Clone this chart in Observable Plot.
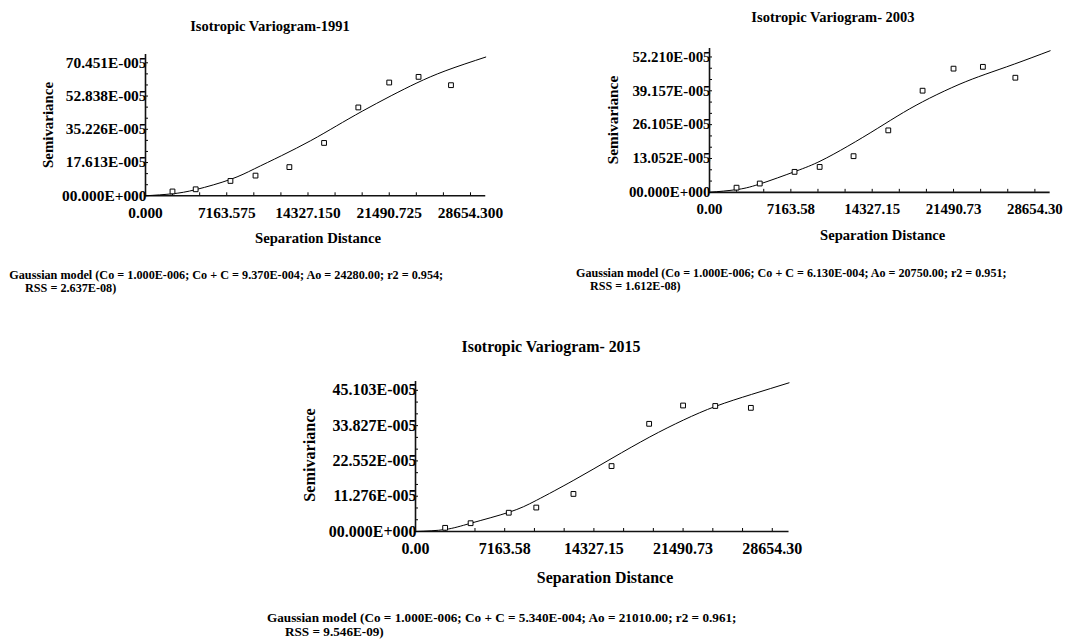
<!DOCTYPE html>
<html><head><meta charset="utf-8">
<script src="https://cdn.jsdelivr.net/npm/d3@7"></script>
<script src="https://cdn.jsdelivr.net/npm/@observablehq/plot@0.6"></script>
<style>
html,body{margin:0;padding:0;background:#fff;overflow:hidden;width:1075px;height:641px;}
#page{position:relative;width:1075px;height:641px;font-family:"Liberation Serif","Times New Roman",serif;font-weight:bold;color:#000;}
.t{position:absolute;white-space:nowrap;line-height:1;transform:translate(-50%,-50%);}
.v{position:absolute;white-space:nowrap;line-height:1;transform:translate(-50%,-50%) rotate(-90deg);}
.cap{position:absolute;white-space:nowrap;line-height:1;transform:translateY(-50%);}
.chart{position:absolute;}
</style></head><body><div id="page"></div>
<script>
// ---- data (semivariance in units of E-005) ----
const lag1991 = [2380, 4425, 7490, 9700, 12685, 15745, 18765, 21490, 24075, 26935];
const semi1991 = [2.3, 3.45, 7.87, 10.7, 15.2, 28.0, 46.8, 60.0, 63.0, 58.6];
const modelDist1991 = [0, 2356, 4486, 7467, 9596, 12009, 14564, 16835, 19106, 21661, 23932, 26487, 30000];
const modelSemi1991 = [0, 1.06, 3.35, 8.63, 14.27, 21.3, 29.2, 37.0, 44.8, 53.0, 59.8, 66.3, 73.5];

const lag2003 = [2380, 4425, 7490, 9700, 12685, 15745, 18765, 21490, 24075, 26935];
const semi2003 = [1.8, 3.4, 7.9, 9.8, 13.95, 23.9, 39.2, 47.7, 48.4, 44.2];
const modelDist2003 = [0, 2330, 4403, 7572, 9732, 12180, 14772, 17076, 19380, 21972, 24276, 26868, 30000];
const modelSemi2003 = [0, 1.02, 3.18, 8.1, 12.0, 17.8, 24.6, 30.8, 36.3, 41.6, 45.5, 49.5, 54.6];

const lag2015 = [2380, 4425, 7490, 9700, 12685, 15745, 18765, 21490, 24075, 26935];
const semi2015 = [1.17, 2.65, 6.0, 7.65, 12.0, 20.9, 34.4, 40.25, 40.1, 39.5];
const modelDist2015 = [0, 2388, 4464, 7527, 9733, 12718, 15781, 18817, 21517, 24112, 26993, 30000];
const modelSemi2015 = [0, 0.64, 2.67, 6.18, 10.0, 16.4, 23.4, 30.2, 35.6, 40.0, 43.8, 47.5];

// ---- tick values and labels ----
const xTickValues = [0, 7163.575, 14327.15, 21490.725, 28654.3];
const xTickLabels1991 = ["0.000", "7163.575", "14327.150", "21490.725", "28654.300"];
const xTickLabels2dp = ["0.00", "7163.58", "14327.15", "21490.73", "28654.30"];
const yTicks1991 = [0, 17.613, 35.226, 52.838, 70.451];
const yTickLabels1991 = ["00.000E+000", "17.613E-005", "35.226E-005", "52.838E-005", "70.451E-005"];
const yTicks2003 = [0, 13.052, 26.105, 39.157, 52.210];
const yTickLabels2003 = ["00.000E+000", "13.052E-005", "26.105E-005", "39.157E-005", "52.210E-005"];
const yTicks2015 = [0, 11.276, 22.552, 33.827, 45.103];
const yTickLabels2015 = ["00.000E+000", "11.276E-005", "22.552E-005", "33.827E-005", "45.103E-005"];

const titles = ["Isotropic Variogram-1991", "Isotropic Variogram- 2003", "Isotropic Variogram- 2015"];
const captions = [
  ["Gaussian model (Co = 1.000E-006; Co + C = 9.370E-004; Ao = 24280.00; r2 = 0.954;", "RSS = 2.637E-08)"],
  ["Gaussian model (Co = 1.000E-006; Co + C = 6.130E-004; Ao = 20750.00; r2 = 0.951;", "RSS = 1.612E-08)"],
  ["Gaussian model (Co = 1.000E-006; Co + C = 5.340E-004; Ao = 21010.00; r2 = 0.961;", "RSS = 9.546E-09)"]
];
const xAxisTitle = "Separation Distance";
const yAxisTitle = "Semivariance";

const page = document.getElementById("page");
const FONT = '"Liberation Serif", "Times New Roman", serif';

function addText(cls, txt, x, y, size) {
  const el = document.createElement("div");
  el.className = cls;
  el.textContent = txt;
  el.style.left = x + "px";
  el.style.top = y + "px";
  el.style.fontSize = size + "px";
  page.appendChild(el);
}

function variogram(cfg) {
  const {lags, semis, modelDist, modelSemi, xTicks, xLabels, yTicks, yLabels, xMax, yMax, lay} = cfg;
  const ml = 100, mr = 40, mt = 10, mb = 34;
  const xLen = lay.xPerMajor / xTicks[1] * xMax;
  const yLen = lay.yPerMajor / yTicks[1] * yMax;
  const width = ml + xLen + mr;
  const height = mt + yLen + mb;
  const pts = lags.map((d, i) => ({d, s: semis[i]}));
  const model = modelDist.map((d, i) => ({d, s: modelSemi[i]}));
  const xStep = xTicks[1] / 3, yStep = yTicks[1] / 3;
  const xMinor = d3.range(1, Math.floor(xMax / xStep + 1e-9) + 1).map(i => i * xStep);
  const yMinor = d3.range(1, Math.floor(yMax / yStep + 1e-9) + 1).map(i => i * yStep);
  const xLab = new Map(xTicks.map((v, i) => [v, xLabels[i]]));
  const yLab = new Map(yTicks.map((v, i) => [v, yLabels[i]]));
  const tickY = yMax * 3 / yLen, tickX = xMax * 3 / xLen;
  const svg = Plot.plot({
    width, height, marginLeft: ml, marginRight: mr, marginTop: mt, marginBottom: mb,
    style: {fontFamily: FONT, fontSize: lay.tickFont + "px", fontWeight: "bold", background: "transparent", overflow: "visible", color: "#000"},
    x: {domain: [0, xMax], ticks: xTicks, tickFormat: d => xLab.get(d), tickSize: 0, tickPadding: lay.xPad, label: null},
    y: {domain: [0, yMax], ticks: yTicks, tickFormat: d => yLab.get(d), tickSize: 0, tickPadding: -1, label: null},
    marks: [
      Plot.ruleX(xMinor, {x: d => d, y1: 0, y2: tickY, stroke: "#000", strokeWidth: 1}),
      Plot.ruleY(yMinor, {y: d => d, x1: 0, x2: tickX, stroke: "#000", strokeWidth: 1}),
      Plot.ruleY([0], {stroke: "#111", strokeWidth: 1.6}),
      Plot.ruleX([0], {stroke: "#111", strokeWidth: 1.6}),
      Plot.line(model, {x: "d", y: "s", curve: "natural", stroke: "#000", strokeWidth: 1}),
      Plot.dot(pts, {x: "d", y: "s", symbol: "square", r: 2.7, stroke: "#000", fill: "#fff", strokeWidth: 1})
    ]
  });
  svg.classList.add("chart");
  svg.style.left = (lay.x0 - ml) + "px";
  svg.style.top = (lay.y0 - yLen - mt) + "px";
  svg.style.position = "absolute";
  page.appendChild(svg);
}

variogram({lags: lag1991, semis: semi1991, modelDist: modelDist1991, modelSemi: modelSemi1991,
  xTicks: xTickValues, xLabels: xTickLabels1991, yTicks: yTicks1991, yLabels: yTickLabels1991,
  xMax: 30000, yMax: 74.85,
  lay: {x0: 145, y0: 195.5, xPerMajor: 81.25, yPerMajor: 33.25, tickFont: 15.4, xPad: 11}});
variogram({lags: lag2003, semis: semi2003, modelDist: modelDist2003, modelSemi: modelSemi2003,
  xTicks: xTickValues, xLabels: xTickLabels2dp, yTicks: yTicks2003, yLabels: yTickLabels2003,
  xMax: 30000, yMax: 55.47,
  lay: {x0: 709.3, y0: 192.3, xPerMajor: 81.35, yPerMajor: 33.85, tickFont: 14.9, xPad: 11}});
variogram({lags: lag2015, semis: semi2015, modelDist: modelDist2015, modelSemi: modelSemi2015,
  xTicks: xTickValues, xLabels: xTickLabels2dp, yTicks: yTicks2015, yLabels: yTickLabels2015,
  xMax: 30000, yMax: 47.92,
  lay: {x0: 415, y0: 531.5, xPerMajor: 89.2, yPerMajor: 35.3, tickFont: 16, xPad: 11.5}});

// titles, axis titles, captions
addText("t", titles[0], 270, 26, 14.5);
addText("t", titles[1], 833, 17.3, 14.5);
addText("t", titles[2], 551, 347.3, 15.9);
addText("v", yAxisTitle, 47.7, 125, 14.9);
addText("v", yAxisTitle, 613.3, 120, 15.3);
addText("v", yAxisTitle, 310, 455, 16.2);
addText("t", xAxisTitle, 318, 237.5, 14.7);
addText("t", xAxisTitle, 882.7, 235, 14.6);
addText("t", xAxisTitle, 605, 578.3, 15.9);
addText("cap", captions[0][0], 9.3, 275, 12.2);
addText("cap", captions[0][1], 25, 287.5, 12.2);
addText("cap", captions[1][0], 576, 273, 12.1);
addText("cap", captions[1][1], 590, 286, 12.1);
addText("cap", captions[2][0], 267, 618.3, 13.2);
addText("cap", captions[2][1], 285, 632, 13.2);
</script>
</body></html>
